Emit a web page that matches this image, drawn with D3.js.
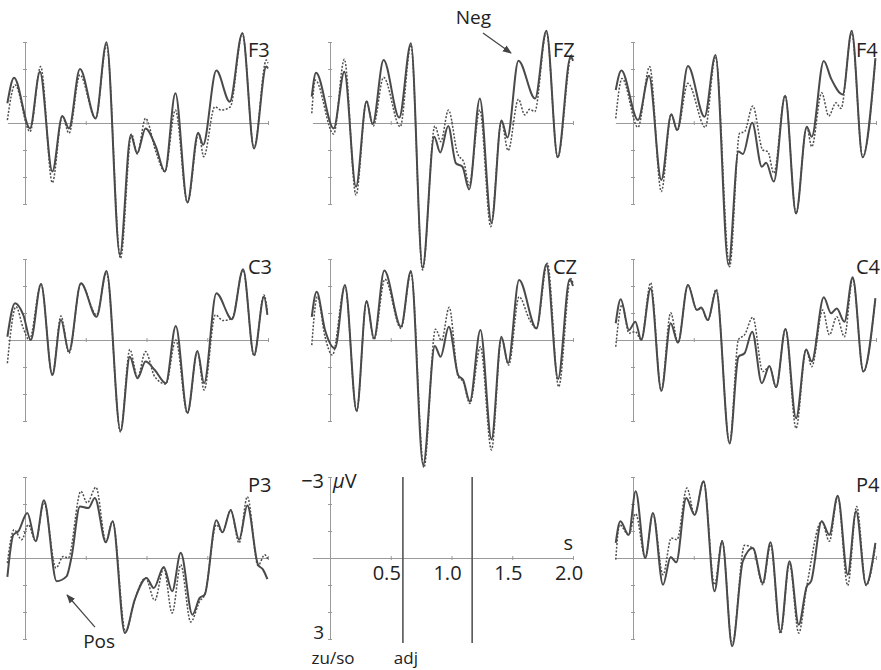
<!DOCTYPE html>
<html>
<head>
<meta charset="utf-8">
<script src="https://cdn.jsdelivr.net/npm/d3@7"></script>
<style>
  body { margin: 0; background: #fff; }
  svg { display: block; font-family: "Open Sans", "Noto Sans", sans-serif; }
  .axis path, .axis line { stroke: #9a9a9a; stroke-width: 1; }
  .solid { fill: none; stroke: #4a4a4a; stroke-width: 2; }
  .dotted { fill: none; stroke: #4f4f4f; stroke-width: 1.5; stroke-dasharray: 2,1.6; }
</style>
</head>
<body>
<svg id="chart" width="881" height="670"></svg>
<script>
// [time in s, amplitude in µV] (negative up)
var f3Solid = [[-0.145,-0.73],[-0.090,-1.68],[0.041,0.20],[0.123,-1.90],[0.225,1.80],[0.307,-0.26],[0.362,0.20],[0.452,-2.00],[0.581,-0.17],[0.671,-2.99],[0.781,4.89],[0.871,0.44],[0.923,1.12],[0.992,0.20],[1.077,0.88],[1.151,1.80],[1.238,-1.10],[1.337,2.94],[1.425,0.36],[1.466,0.81],[1.575,-1.94],[1.685,-0.79],[1.789,-3.32],[1.885,0.94],[1.986,-2.09],[2.0,-2.02]];
var f3Dotted = [[-0.145,-0.11],[-0.082,-1.41],[0.041,0.32],[0.129,-2.09],[0.225,2.21],[0.307,-0.26],[0.362,0.38],[0.452,-1.78],[0.581,-0.17],[0.671,-2.89],[0.786,5.01],[0.877,0.41],[0.923,1.15],[0.992,-0.17],[1.077,1.06],[1.151,1.80],[1.238,-0.48],[1.337,2.94],[1.430,0.38],[1.471,1.25],[1.562,-0.60],[1.616,-0.48],[1.690,-0.60],[1.789,-3.32],[1.885,0.94],[1.986,-2.33],[2.0,-2.21]];

var fzSolid = [[-0.150,-0.98],[-0.115,-1.86],[0.030,0.20],[0.118,-1.90],[0.214,2.36],[0.301,-0.81],[0.351,0.04],[0.441,-2.33],[0.570,-0.20],[0.666,-2.95],[0.762,5.37],[0.858,0.51],[0.907,1.09],[0.973,0.11],[1.036,1.49],[1.090,1.62],[1.145,2.46],[1.233,-0.91],[1.329,3.69],[1.411,-0.09],[1.460,0.54],[1.551,-2.31],[1.688,-0.91],[1.781,-3.42],[1.874,1.27],[1.981,-2.46],[2.0,-2.3]];
var fzDotted = [[-0.150,-0.36],[-0.121,-1.59],[0.030,0.41],[0.118,-2.36],[0.214,2.67],[0.301,-0.81],[0.356,0.11],[0.441,-1.69],[0.578,0.14],[0.666,-2.89],[0.762,5.44],[0.863,0.11],[0.912,0.69],[0.975,-0.48],[1.049,1.12],[1.104,1.49],[1.145,2.30],[1.233,-0.48],[1.323,3.84],[1.411,-0.05],[1.466,1.02],[1.551,-0.88],[1.603,-0.30],[1.644,-0.51],[1.685,-0.42],[1.781,-3.38],[1.874,1.27],[1.989,-2.52],[2.0,-2.45]];

var f4Solid = [[-0.142,-1.22],[-0.096,-1.94],[0.041,-0.11],[0.132,-1.75],[0.233,2.11],[0.315,-0.32],[0.364,0.26],[0.452,-2.11],[0.589,-0.23],[0.679,-2.52],[0.786,5.26],[0.868,1.06],[0.904,1.15],[0.981,-0.01],[1.060,1.62],[1.096,1.47],[1.159,2.17],[1.252,-1.01],[1.342,3.35],[1.430,0.14],[1.471,0.51],[1.570,-2.30],[1.630,-1.65],[1.726,-1.06],[1.800,-3.42],[1.890,1.27],[1.995,-2.40]];
var f4Dotted = [[-0.142,-0.17],[-0.090,-1.65],[0.041,0.16],[0.137,-2.09],[0.233,2.54],[0.315,-0.32],[0.364,0.28],[0.452,-1.47],[0.595,0.16],[0.679,-2.46],[0.795,5.32],[0.877,0.38],[0.918,0.32],[0.986,-0.63],[1.068,1.00],[1.110,1.06],[1.159,1.86],[1.252,-1.01],[1.342,3.35],[1.430,0.14],[1.471,0.88],[1.553,-1.12],[1.611,-0.26],[1.671,-0.75],[1.712,-0.54],[1.800,-3.32],[1.890,1.27],[1.995,-2.33]];

var c3Solid = [[-0.145,-0.12],[-0.082,-1.36],[-0.014,-0.93],[0.047,0.00],[0.132,-2.07],[0.225,1.30],[0.296,-0.74],[0.362,0.43],[0.460,-2.10],[0.589,-0.86],[0.671,-2.56],[0.786,3.37],[0.863,0.62],[0.926,1.42],[0.992,0.80],[1.068,1.11],[1.159,1.60],[1.241,-0.52],[1.337,2.69],[1.419,0.41],[1.474,1.60],[1.575,-1.73],[1.704,-0.77],[1.795,-2.62],[1.885,0.56],[1.967,-1.60],[1.995,-0.93]];
var c3Dotted = [[-0.145,0.86],[-0.074,-1.23],[-0.014,-0.43],[0.036,0.00],[0.132,-2.07],[0.225,1.30],[0.296,-0.89],[0.362,0.49],[0.460,-2.10],[0.589,-0.93],[0.671,-2.49],[0.786,3.40],[0.863,0.35],[0.926,1.38],[0.992,0.43],[1.068,1.36],[1.159,1.63],[1.241,0.00],[1.337,2.72],[1.419,0.43],[1.474,1.85],[1.567,-0.93],[1.630,-0.72],[1.704,-0.80],[1.795,-2.59],[1.885,0.59],[1.967,-1.67],[1.995,-1.05]];

var czSolid = [[-0.150,-0.86],[-0.110,-1.79],[-0.041,-0.37],[0.041,0.31],[0.123,-2.04],[0.219,2.62],[0.301,-1.44],[0.362,-0.06],[0.447,-2.57],[0.584,-0.49],[0.666,-2.56],[0.767,4.63],[0.863,0.22],[0.910,0.62],[0.978,-0.49],[1.055,1.30],[1.096,1.48],[1.151,2.28],[1.238,-0.37],[1.329,3.68],[1.411,-0.12],[1.466,0.86],[1.556,-2.22],[1.699,-0.43],[1.781,-2.81],[1.877,1.44],[1.973,-2.25],[2.0,-2.0]];
var czDotted = [[-0.150,0.19],[-0.104,-1.60],[-0.041,-0.12],[0.019,0.56],[0.123,-1.98],[0.219,2.65],[0.301,-1.44],[0.362,-0.02],[0.452,-2.25],[0.584,-0.43],[0.666,-2.49],[0.773,4.72],[0.868,-0.40],[0.918,0.02],[0.981,-1.21],[1.055,1.36],[1.096,1.54],[1.151,2.35],[1.238,0.25],[1.329,4.07],[1.411,-0.06],[1.471,0.93],[1.556,-1.60],[1.644,-0.74],[1.699,-0.43],[1.789,-2.84],[1.882,1.73],[1.981,-2.28],[2.0,-2.1]];

var c4Solid = [[-0.142,-0.62],[-0.101,-1.51],[-0.033,-0.37],[0.019,-0.68],[0.068,0.00],[0.145,-1.91],[0.233,1.88],[0.310,-0.62],[0.370,0.10],[0.452,-2.04],[0.526,-1.11],[0.562,-1.20],[0.616,-0.74],[0.685,-1.83],[0.795,3.83],[0.868,0.62],[0.918,0.49],[0.981,-0.31],[1.060,1.60],[1.123,0.96],[1.178,1.75],[1.255,-0.41],[1.342,2.90],[1.425,0.35],[1.471,0.80],[1.570,-1.58],[1.630,-0.99],[1.677,-1.17],[1.740,-0.68],[1.808,-2.32],[1.896,1.17],[1.995,-1.54]];
var c4Dotted = [[-0.142,0.25],[-0.090,-1.30],[-0.033,-0.25],[0.019,-0.31],[0.068,0.00],[0.145,-2.12],[0.233,1.88],[0.310,-1.01],[0.370,0.10],[0.452,-2.04],[0.526,-1.11],[0.562,-1.17],[0.616,-0.72],[0.685,-1.88],[0.795,3.83],[0.868,-0.02],[0.918,-0.19],[0.986,-0.84],[1.068,1.17],[1.123,0.99],[1.178,1.75],[1.255,-0.41],[1.342,3.27],[1.425,0.35],[1.471,0.99],[1.562,-1.11],[1.616,-0.19],[1.677,-0.86],[1.740,-0.12],[1.808,-2.27],[1.896,1.17],[1.995,-1.54]];

var p3Solid = [[-0.145,0.70],[-0.096,-0.86],[-0.055,-0.99],[0.019,-1.67],[0.088,-0.62],[0.156,-2.14],[0.260,0.86],[0.342,0.68],[0.384,-0.06],[0.452,-1.91],[0.521,-1.85],[0.575,-2.22],[0.666,-0.58],[0.721,-1.36],[0.822,2.78],[0.904,1.53],[1.000,0.74],[1.060,1.11],[1.142,0.33],[1.211,1.23],[1.282,-0.19],[1.378,2.10],[1.438,1.48],[1.479,1.36],[1.575,-1.40],[1.625,-0.95],[1.693,-1.77],[1.762,-0.68],[1.830,-1.94],[1.918,0.25],[1.959,0.43],[1.995,0.78]];
var p3Dotted = [[-0.145,0.19],[-0.090,-1.05],[-0.027,-0.68],[0.027,-1.23],[0.088,-0.62],[0.156,-2.05],[0.255,0.37],[0.315,-0.06],[0.356,0.00],[0.460,-2.47],[0.512,-2.04],[0.584,-2.62],[0.666,-0.62],[0.721,-1.36],[0.827,2.72],[0.904,1.54],[0.992,0.74],[1.068,1.57],[1.142,0.37],[1.211,2.04],[1.282,0.25],[1.364,2.37],[1.438,1.60],[1.479,1.36],[1.575,-1.23],[1.625,-0.95],[1.693,-1.79],[1.762,-0.56],[1.830,-2.27],[1.918,0.28],[1.973,-0.12],[2.0,0.06]];

var p4Solid = [[-0.142,-0.56],[-0.104,-1.36],[-0.036,-0.86],[0.022,-2.47],[0.101,0.00],[0.164,-1.67],[0.247,0.99],[0.310,-0.04],[0.356,0.16],[0.438,-2.22],[0.507,-1.60],[0.581,-2.84],[0.671,1.23],[0.734,-0.62],[0.816,3.27],[0.904,0.12],[0.986,-0.37],[1.068,0.93],[1.132,-0.58],[1.214,2.72],[1.288,0.12],[1.364,2.47],[1.430,1.05],[1.466,0.86],[1.553,-1.36],[1.616,-0.86],[1.685,-2.31],[1.767,0.62],[1.836,-1.73],[1.918,0.99],[1.995,-0.56]];
var p4Dotted = [[-0.142,0.06],[-0.110,-1.23],[-0.036,-0.86],[0.022,-1.64],[0.101,0.00],[0.164,-1.64],[0.247,0.62],[0.315,-0.74],[0.362,-0.68],[0.444,-2.59],[0.507,-1.60],[0.581,-2.84],[0.671,0.99],[0.734,-0.64],[0.816,3.21],[0.918,-0.47],[0.986,-0.37],[1.068,0.99],[1.132,-0.49],[1.214,2.80],[1.288,0.19],[1.364,2.78],[1.430,1.05],[1.553,-1.36],[1.616,-0.62],[1.685,-2.28],[1.767,1.02],[1.841,-1.91],[1.918,1.02],[1.995,-0.43]];

var channels = ["F3", "FZ", "F4", "C3", "CZ", "C4", "P3", null, "P4"];
var ampTicks = [-3, -2, -1, 0, 1, 2, 3];
var timeTicks = [0.5, 1.0, 1.5, 2.0];
var markerTimes = [0.6, 1.17];
var markerLabels = ["zu/so", "adj"];
var markerLabelTimes = [0, 0.6];

var series = {
  F3: [f3Solid, f3Dotted], FZ: [fzSolid, fzDotted], F4: [f4Solid, f4Dotted],
  C3: [c3Solid, c3Dotted], CZ: [czSolid, czDotted], C4: [c4Solid, c4Dotted],
  P3: [p3Solid, p3Dotted], P4: [p4Solid, p4Dotted]
};

var svg = d3.select("#chart");
var colX = [25, 330, 633];
var rowY = [123, 340, 558];
var tStart = -0.145;

var x = d3.scaleLinear().domain([0, 2]).range([0, 243]);
var y = d3.scaleLinear().domain([-3, 3]).range([-81, 81]);

var line = d3.line()
    .x(d => x(d[0]))
    .y(d => y(d[1]))
    .curve(d3.curveMonotoneX);

svg.append("defs").append("marker")
    .attr("id", "arrow")
    .attr("viewBox", "0 0 10 10")
    .attr("refX", 9).attr("refY", 5)
    .attr("markerWidth", 9).attr("markerHeight", 9)
    .attr("markerUnits", "userSpaceOnUse")
    .attr("orient", "auto")
    .append("path").attr("d", "M0,1L10,5L0,9Z").attr("fill", "#444");

function drawAxes(g) {
    var yAxis = g.append("g").attr("class", "axis")
        .call(d3.axisLeft(y).tickValues(ampTicks).tickSize(2).tickSizeOuter(0).tickFormat(""));
    yAxis.selectAll(".tick line").attr("x1", 2);
    var xh = d3.scaleLinear().domain([tStart, 2]).range([x(tStart), x(2)]);
    var xAxis = g.append("g").attr("class", "axis")
        .call(d3.axisBottom(xh).tickValues(timeTicks).tickSize(2).tickSizeOuter(0).tickFormat(""));
    xAxis.selectAll(".tick line").attr("y1", -2);
    g.selectAll(".axis text").remove();
}

channels.forEach(function (name, i) {
    var g = svg.append("g")
        .attr("transform", "translate(" + colX[i % 3] + "," + rowY[Math.floor(i / 3)] + ")");
    drawAxes(g);

    if (name == null) {
        // scale / legend panel
        g.selectAll(".marker").data(markerTimes).enter().append("line")
            .attr("x1", d => x(d)).attr("x2", d => x(d))
            .attr("y1", y(-3)).attr("y2", y(3) + 4)
            .attr("stroke", "#555").attr("stroke-width", 1.6);
        g.selectAll(".tlab").data(timeTicks).enter().append("text")
            .attr("x", d => x(d) - 4).attr("y", 22)
            .attr("text-anchor", "middle").attr("font-size", 20).attr("fill", "#222")
            .text(d => d.toFixed(1));
        g.append("text").attr("x", -6).attr("y", y(-3) + 11)
            .attr("text-anchor", "end").attr("font-size", 20).attr("fill", "#222").text("\u22123");
        g.append("text").attr("x", -6).attr("y", y(3))
            .attr("text-anchor", "end").attr("font-size", 19).attr("fill", "#222").text("3");
        var uv = g.append("text").attr("x", 3).attr("y", y(-3) + 11)
            .attr("font-size", 20).attr("fill", "#222");
        uv.append("tspan").attr("font-style", "italic").text("\u00b5");
        uv.append("tspan").text("V");
        g.append("text").attr("x", x(2)).attr("y", -8)
            .attr("text-anchor", "end").attr("font-size", 20).attr("fill", "#222").text("s");
        g.selectAll(".mlab").data(markerLabels).enter().append("text")
            .attr("x", (d, j) => x(markerLabelTimes[j]) + 3).attr("y", y(3) + 25)
            .attr("text-anchor", "middle").attr("font-size", 17).attr("fill", "#222")
            .text(d => d);
        return;
    }

    g.append("path").datum(series[name][1]).attr("class", "dotted").attr("d", line);
    g.append("path").datum(series[name][0]).attr("class", "solid").attr("d", line);
    g.append("text").attr("x", x(1.835)).attr("y", y(-2.45))
        .attr("font-size", 20).attr("fill", "#222").text(name);

    if (name == "FZ") {
        g.append("text").attr("x", x(1.18)).attr("y", y(-3.67))
            .attr("text-anchor", "middle").attr("font-size", 19).attr("fill", "#222").text("Neg");
        g.append("line")
            .attr("x1", x(1.259)).attr("y1", y(-3.33))
            .attr("x2", x(1.49)).attr("y2", y(-2.59))
            .attr("stroke", "#444").attr("stroke-width", 1.2).attr("marker-end", "url(#arrow)");
    }
    if (name == "P3") {
        g.append("text").attr("x", x(0.61)).attr("y", y(3.33))
            .attr("text-anchor", "middle").attr("font-size", 19).attr("fill", "#222").text("Pos");
        g.append("line")
            .attr("x1", x(0.576)).attr("y1", y(2.56))
            .attr("x2", x(0.346)).attr("y2", y(1.37))
            .attr("stroke", "#444").attr("stroke-width", 1.2).attr("marker-end", "url(#arrow)");
    }
});
</script>
</body>
</html>
